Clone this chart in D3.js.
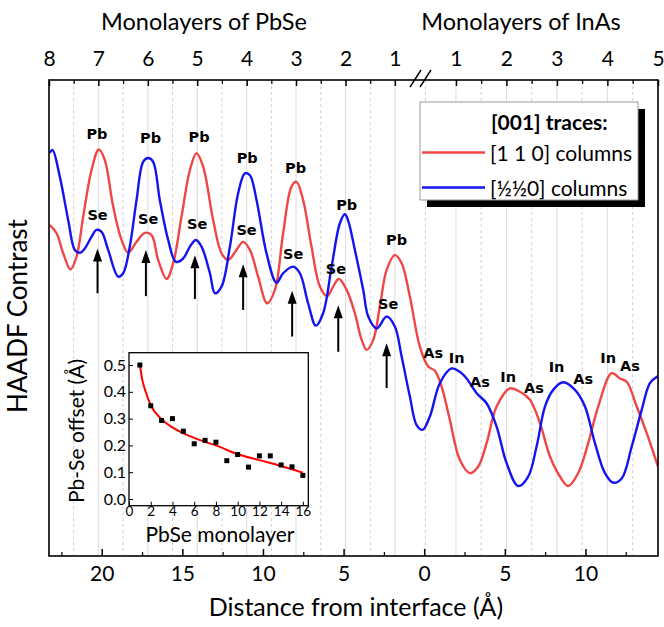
<!DOCTYPE html>
<html><head><meta charset="utf-8">
<script src="https://cdn.jsdelivr.net/npm/d3@7"></script>
<style>
body{margin:0;background:#fff}
svg{display:block}
text{font-family:Lato,"Open Sans",sans-serif;fill:#000}
</style>
</head><body>
<svg id="c" width="664" height="627"></svg>
<script>
// ---------- data ----------
const redTrace = [[-23.22,6.95],[-22.80,6.78],[-22.39,6.36],[-21.94,6.02],[-21.56,6.29],[-21.15,7.13],[-20.63,8.11],[-20.18,8.54],[-19.81,8.32],[-19.29,7.34],[-18.77,6.64],[-18.36,6.37],[-17.84,6.60],[-17.33,6.79],[-16.91,6.74],[-16.50,6.22],[-15.98,5.82],[-15.57,6.15],[-15.05,7.13],[-14.53,8.11],[-14.12,8.46],[-13.71,8.18],[-13.09,7.06],[-12.57,6.36],[-12.16,6.22],[-11.64,6.43],[-11.23,6.60],[-10.81,6.43],[-10.30,5.87],[-9.74,5.31],[-9.26,5.59],[-8.75,6.78],[-8.23,7.76],[-7.92,7.86],[-7.51,7.48],[-6.99,6.50],[-6.47,5.66],[-6.02,5.46],[-5.65,5.66],[-5.29,5.82],[-4.81,5.59],[-4.30,5.10],[-3.88,4.54],[-3.57,4.33],[-3.16,4.54],[-2.75,5.24],[-2.33,6.01],[-1.82,6.32],[-1.40,6.15],[-0.89,5.45],[-0.27,4.40],[0.25,3.98],[0.66,3.89],[1.08,3.56],[1.59,2.86],[2.21,2.02],[2.83,1.74],[3.35,1.88],[3.87,2.37],[4.49,3.14],[5.32,3.52],[5.94,3.45],[6.56,3.28],[7.18,2.79],[7.80,2.09],[8.42,1.67],[8.93,1.47],[9.55,1.74],[10.17,2.37],[10.79,3.14],[11.63,3.84],[12.14,3.73],[12.56,3.66],[13.18,3.14],[13.80,2.58],[14.5,1.88]];
const blueTrace = [[-23.22,8.47],[-23.05,8.53],[-22.60,7.97],[-22.08,7.06],[-21.67,6.43],[-21.36,6.37],[-21.05,6.46],[-20.63,6.71],[-20.32,6.85],[-20.01,6.81],[-19.60,6.43],[-18.98,5.87],[-18.67,5.94],[-18.26,6.50],[-17.84,7.48],[-17.43,8.28],[-17.12,8.36],[-16.81,8.28],[-16.40,7.48],[-15.88,6.64],[-15.40,6.18],[-14.95,6.25],[-14.53,6.50],[-14.16,6.64],[-13.81,6.50],[-13.29,5.94],[-12.98,5.52],[-12.57,5.66],[-12.05,6.50],[-11.54,7.62],[-11.12,8.04],[-10.81,8.00],[-10.40,7.48],[-9.78,6.36],[-9.16,5.74],[-8.75,5.94],[-8.13,6.08],[-7.71,5.94],[-7.20,5.31],[-6.72,4.84],[-6.27,5.10],[-5.74,6.08],[-5.23,6.99],[-4.92,7.18],[-4.73,7.06],[-4.30,6.43],[-3.78,5.59],[-3.47,5.03],[-2.95,4.78],[-2.33,5.03],[-1.82,4.82],[-1.40,4.19],[-0.89,3.35],[-0.47,2.75],[-0.10,2.65],[0.35,2.93],[0.97,3.63],[1.70,3.94],[2.21,3.87],[2.63,3.73],[3.25,3.42],[3.87,3.21],[4.49,2.72],[5.11,1.95],[5.83,1.47],[6.45,1.67],[6.97,2.30],[7.49,3.14],[8.00,3.49],[8.62,3.65],[9.35,3.49],[9.97,3.14],[10.59,2.37],[11.21,1.74],[11.72,1.54],[12.25,1.63],[12.87,2.30],[13.49,3.07],[14.00,3.63],[14.5,3.78]];

const distTicks = [-20,-15,-10,-5,0,5,10];
const distMinorTicks = [-22.5,-17.5,-12.5,-7.5,-2.5,2.5,7.5,12.5];
const pbseLayers = [8,7,6,5,4,3,2,1];
const pbseLayerPos = [-23.27,-20.21,-17.14,-14.08,-11.01,-7.95,-4.88,-1.82];
const inasLayers = [1,2,3,4,5];
const inasLayerPos = [1.97,5.10,8.23,11.36,14.5];

const arrowX = [-20.26,-17.26,-14.22,-11.23,-8.19,-5.33,-2.33];
const arrowTip = [6.46,6.43,6.32,6.13,5.57,5.27,4.47];
const arrowTail = [5.52,5.46,5.40,5.17,4.61,4.29,3.53];

const atomLabels = [
  ["Pb",-20.30,8.87],["Pb",-16.97,8.78],["Pb",-13.96,8.80],["Pb",-10.98,8.36],["Pb",-7.98,8.15],["Pb",-4.81,7.37],["Pb",-1.71,6.64],
  ["Se",-20.26,7.16],["Se",-17.12,7.09],["Se",-14.08,6.97],["Se",-11.02,6.85],["Se",-8.13,6.34],["Se",-5.48,6.02],["Se",-2.23,5.29],
  ["As",0.56,4.27],["As",3.46,3.66],["As",6.81,3.52],["As",9.86,3.72],["As",12.76,3.99],
  ["In",2.01,4.15],["In",5.21,3.77],["In",8.21,3.98],["In",11.41,4.15]
];

// inset
const insetLayer = [1,2,3,4,5,6,7,8,9,10,11,12,13,14,15,16];
const insetOffset = [0.50,0.348,0.293,0.30,0.253,0.206,0.219,0.212,0.143,0.166,0.119,0.161,0.161,0.127,0.12,0.088];
const fitLayer = [1,1.25,1.5,2,3,4,5,6,7,8,10,12,14,16];
const fitOffset = [0.50,0.44,0.405,0.35,0.298,0.267,0.245,0.228,0.213,0.200,0.167,0.145,0.123,0.098];
const insetXTicks = [0,2,4,6,8,10,12,14,16];
const insetYTicks = [0,0.1,0.2,0.3,0.4,0.5];

const legendItems = [["[1 1 0] columns","#f04646"],["[½½0] columns","#1414f0"]];

// ---------- drawing ----------
const svg = d3.select("#c");
const L=49,R=658,T=80,B=556;
const x = d3.scaleLinear().domain([-23.27,14.5]).range([L,R]);
const y = d3.scaleLinear().domain([0,10]).range([B,T]);

// grid
const majorPos = pbseLayerPos.concat(inasLayerPos);
const minorPos = [];
for(let i=0;i<pbseLayerPos.length-1;i++) minorPos.push((pbseLayerPos[i]+pbseLayerPos[i+1])/2);
minorPos.push((pbseLayerPos[pbseLayerPos.length-1]+inasLayerPos[0])/2);
for(let i=0;i<inasLayerPos.length-1;i++) minorPos.push((inasLayerPos[i]+inasLayerPos[i+1])/2);
svg.append("g").selectAll("line").data(majorPos).join("line")
  .attr("x1",d=>x(d)).attr("x2",d=>x(d)).attr("y1",T).attr("y2",B)
  .attr("stroke","#dcdcdc").attr("stroke-width",1);
svg.append("g").selectAll("line").data(minorPos).join("line")
  .attr("x1",d=>x(d)).attr("x2",d=>x(d)).attr("y1",T).attr("y2",B)
  .attr("stroke","#d0d0d0").attr("stroke-width",1).attr("stroke-dasharray","3,3");

// traces
const line = d3.line().x(d=>x(d[0])).y(d=>y(d[1])).curve(d3.curveCatmullRom.alpha(0.5));
svg.append("clipPath").attr("id","pc").append("rect").attr("x",L).attr("y",T).attr("width",R-L).attr("height",B-T);
const traces = svg.append("g").attr("clip-path","url(#pc)");
traces.append("path").datum(redTrace).attr("d",line).attr("fill","none").attr("stroke",legendItems[0][1]).attr("stroke-width",2.4).attr("stroke-linejoin","round");
traces.append("path").datum(blueTrace).attr("d",line).attr("fill","none").attr("stroke",legendItems[1][1]).attr("stroke-width",2.4).attr("stroke-linejoin","round");

// arrows
const ag = svg.append("g");
arrowX.forEach((ax,i)=>{
  const px=x(ax), tip=y(arrowTip[i]), tail=y(arrowTail[i]);
  ag.append("line").attr("x1",px).attr("x2",px).attr("y1",tail).attr("y2",tip+10).attr("stroke","#000").attr("stroke-width",2);
  ag.append("path").attr("d",`M${px},${tip} L${px-4.5},${tip+13} L${px+4.5},${tip+13} Z`).attr("fill","#000");
});

// atom labels
svg.append("g").selectAll("text").data(atomLabels).join("text")
  .attr("x",d=>x(d[1])).attr("y",d=>y(d[2])).attr("text-anchor","middle").attr("dominant-baseline","central")
  .style("font-family","'DejaVu Sans',sans-serif").style("font-weight","bold").style("font-size","14.5px")
  .text(d=>d[0]);

// bottom axis
const bottom = svg.append("g").attr("transform",`translate(0,${B})`)
  .call(d3.axisBottom(x).tickValues(distTicks).tickFormat(d=>Math.abs(d)).tickSizeInner(-7).tickSizeOuter(0).tickPadding(10));
bottom.select(".domain").remove();
bottom.selectAll("line").attr("stroke","#000").attr("stroke-width",1.5);
bottom.selectAll("text").style("font-size","21px").style("font-family","Lato,sans-serif");
const bmin = svg.append("g").attr("transform",`translate(0,${B})`)
  .call(d3.axisBottom(x).tickValues(distMinorTicks).tickFormat("").tickSizeInner(-4).tickSizeOuter(0));
bmin.select(".domain").remove();
bmin.selectAll("line").attr("stroke","#000").attr("stroke-width",1.2);

// top axis
const top1 = svg.append("g").attr("transform",`translate(0,${T})`)
  .call(d3.axisTop(x).tickValues(pbseLayerPos).tickFormat((d,i)=>pbseLayers[i]).tickSizeInner(-6).tickSizeOuter(0).tickPadding(14));
const top2 = svg.append("g").attr("transform",`translate(0,${T})`)
  .call(d3.axisTop(x).tickValues(inasLayerPos).tickFormat((d,i)=>inasLayers[i]).tickSizeInner(-6).tickSizeOuter(0).tickPadding(14));
[top1,top2].forEach(g=>{g.select(".domain").remove();g.selectAll("line").attr("stroke","#000").attr("stroke-width",1.5);g.selectAll("text").style("font-size","21px").style("font-family","Lato,sans-serif");});
const topMinor = minorPos.filter(d=>Math.abs(x(d)-421)>8);
const tmin = svg.append("g").attr("transform",`translate(0,${T})`)
  .call(d3.axisTop(x).tickValues(topMinor).tickFormat("").tickSizeInner(-4).tickSizeOuter(0));
tmin.select(".domain").remove();
tmin.selectAll("line").attr("stroke","#000").attr("stroke-width",1.2);

// frame
svg.append("rect").attr("x",L).attr("y",T).attr("width",R-L).attr("height",B-T).attr("fill","none").attr("stroke","#000").attr("stroke-width",1.6);

// break mark
svg.append("line").attr("x1",410).attr("y1",87).attr("x2",421).attr("y2",70).attr("stroke","#000").attr("stroke-width",1.4);
svg.append("line").attr("x1",420).attr("y1",87).attr("x2",431).attr("y2",70).attr("stroke","#000").attr("stroke-width",1.4);

// titles
svg.append("text").attr("x",204).attr("y",30).attr("text-anchor","middle").style("font-size","23.5px").text("Monolayers of PbSe");
svg.append("text").attr("x",521).attr("y",30).attr("text-anchor","middle").style("font-size","23.5px").text("Monolayers of InAs");
svg.append("text").attr("x",356).attr("y",616).attr("text-anchor","middle").style("font-size","25px").text("Distance from interface (Å)");
svg.append("text").attr("transform","translate(27,316) rotate(-90)").attr("text-anchor","middle").style("font-size","26px").text("HAADF Contrast");

// legend
const lg = svg.append("g");
lg.append("rect").attr("x",427).attr("y",109).attr("width",218).attr("height",98).attr("fill","#000");
lg.append("rect").attr("x",420).attr("y",102).attr("width",218).attr("height",98).attr("fill","#fff").attr("stroke","#999").attr("stroke-width",1);
lg.append("text").attr("x",491).attr("y",130).style("font-size","21px").style("font-weight","bold").text("[001] traces:");
legendItems.forEach((it,i)=>{
  const yy = 152.5 + i*35;
  lg.append("line").attr("x1",422).attr("x2",485).attr("y1",yy).attr("y2",yy).attr("stroke",it[1]).attr("stroke-width",2.4);
  lg.append("text").attr("x",490).attr("y",yy).attr("dominant-baseline","central").style("font-size","21px").text(it[0]);
});

// inset
const ix = d3.scaleLinear().domain([0,16.5]).range([129,308.3]);
const iy = d3.scaleLinear().domain([-0.025,0.546]).range([505.7,352.7]);
const ins = svg.append("g");
ins.append("rect").attr("x",129).attr("y",352.7).attr("width",179.3).attr("height",153).attr("fill","#fff");
const ixa = ins.append("g").attr("transform","translate(0,505.7)")
  .call(d3.axisBottom(ix).tickValues(insetXTicks).tickSizeInner(-4).tickSizeOuter(0).tickPadding(1));
const iya = ins.append("g").attr("transform","translate(129,0)")
  .call(d3.axisLeft(iy).tickValues(insetYTicks).tickFormat(d3.format(".1f")).tickSizeInner(-4).tickSizeOuter(0).tickPadding(3));
ixa.select(".domain").remove(); iya.select(".domain").remove();
ixa.selectAll("text").style("font-size","13.5px").style("font-family","Lato,sans-serif");
iya.selectAll("text").style("font-size","16px").style("font-family","Lato,sans-serif");
ins.append("path").datum(fitLayer.map((d,i)=>[d,fitOffset[i]]))
  .attr("d",d3.line().x(d=>ix(d[0])).y(d=>iy(d[1])).curve(d3.curveMonotoneX))
  .attr("fill","none").attr("stroke","#ff0000").attr("stroke-width",2);
ins.append("g").selectAll("rect").data(insetLayer).join("rect")
  .attr("x",(d)=>ix(d)-2.5).attr("y",(d,i)=>iy(insetOffset[i])-2.5).attr("width",5).attr("height",5).attr("fill","#000");
ins.append("rect").attr("x",129).attr("y",352.7).attr("width",179.3).attr("height",153).attr("fill","none").attr("stroke","#000").attr("stroke-width",1.3);
ins.append("text").attr("transform","translate(84,431) rotate(-90)").attr("text-anchor","middle").style("font-size","21px").text("Pb-Se offset (Å)");
ins.append("text").attr("x",220).attr("y",542).attr("text-anchor","middle").style("font-size","21px").text("PbSe monolayer");
</script>
</body></html>
